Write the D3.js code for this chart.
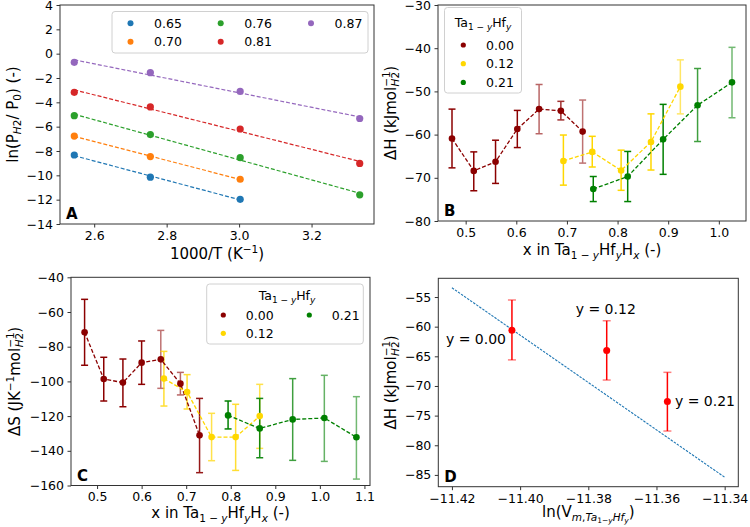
<!DOCTYPE html>
<html>
<head>
<meta charset="utf-8">
<script src="https://cdn.jsdelivr.net/npm/d3@7"></script>
<style>
  body { margin: 0; background: #fff; }
  svg text { font-family: "DejaVu Sans", sans-serif; fill: #000; }
</style>
</head>
<body>
<svg id="chart" width="750" height="527"></svg>
<script>
// ---- Panel A: van 't Hoff plots ----
const invT = [2.545, 2.755, 3.003, 3.333];          // 1000/T
const compA = ['0.65', '0.70', '0.76', '0.81', '0.87'];
const lnP065 = [-8.33, -10.15, -11.97];
const lnP070 = [-6.77, -8.46, -10.32];
const lnP076 = [-5.10, -6.65, -8.55, -11.60];
const lnP081 = [-3.18, -4.38, -6.19, -9.02];
const lnP087 = [-0.71, -1.56, -3.10, -5.33];

// ---- Panel B: enthalpy vs x ----
const xB00 = [0.473, 0.516, 0.559, 0.602, 0.645, 0.688, 0.731];
const dHB00 = [-60.9, -68.4, -66.3, -58.7, -54.1, -54.5, -59.3];
const dHB00Lo = [-67.7, -73.0, -71.3, -63.0, -59.8, -56.6, -66.6];
const dHB00Hi = [-54.1, -64.0, -61.3, -54.4, -48.4, -52.3, -52.0];
const xB12 = [0.693, 0.750, 0.807, 0.866, 0.924];
const dHB12 = [-66.1, -64.0, -68.3, -61.7, -48.9];
const dHB12Lo = [-71.7, -67.5, -72.9, -68.2, -55.2];
const dHB12Hi = [-60.1, -60.4, -63.6, -55.2, -42.7];
const xB21 = [0.752, 0.820, 0.890, 0.958, 1.026];
const dHB21 = [-72.6, -69.7, -61.1, -53.2, -47.9];
const dHB21Lo = [-75.5, -75.5, -69.2, -61.6, -56.1];
const dHB21Hi = [-69.7, -63.9, -53.0, -44.7, -39.8];

// ---- Panel C: entropy vs x ----
const xC00 = [0.472, 0.515, 0.558, 0.600, 0.643, 0.687, 0.730];
const dSC00 = [-71.7, -98.6, -100.7, -89.2, -87.3, -101.3, -131.1];
const dSC00Lo = [-90.7, -111.3, -114.6, -101.7, -104.0, -107.8, -152.6];
const dSC00Hi = [-52.7, -86.1, -87.1, -76.7, -70.6, -94.8, -109.8];
const xC12 = [0.650, 0.702, 0.757, 0.811, 0.865];
const dSC12 = [-98.4, -106.1, -132.1, -132.1, -120.0];
const dSC12Lo = [-114.2, -115.9, -145.7, -151.3, -138.6];
const dSC12Hi = [-82.7, -96.1, -118.4, -113.2, -101.7];
const xC21 = [0.794, 0.865, 0.939, 1.010, 1.082];
const dSC21 = [-119.6, -127.1, -121.9, -121.1, -132.2];
const dSC21Lo = [-127.4, -144.0, -145.5, -146.1, -156.3];
const dSC21Hi = [-111.3, -109.8, -98.4, -96.5, -108.8];

// ---- Panel D: enthalpy vs molar volume ----
const lnVm = [-11.4024, -11.3746, -11.3568];
const dHD = [-60.6, -64.0, -72.6];
const dHDLo = [-65.6, -69.0, -77.6];
const dHDHi = [-55.5, -59.0, -67.7];
const hfLabels = ['y = 0.00', 'y = 0.12', 'y = 0.21'];
const fitLnVm = [-11.42, -11.34];
const fitDH = [-53.44, -85.39];

const hfNames = ['0.00', '0.12', '0.21'];

const svg = d3.select('#chart');
const fmt = d3.format('.1f');

function pad(ext) {
    const r = ext[1] - ext[0];
    return [ext[0] - 0.05 * r, ext[1] + 0.05 * r];
}

// Axes box with ticks and frame
function panel(box, xDom, yDom, xTicks, yTicks, xFmt, yFmt) {
    const x = d3.scaleLinear().domain(xDom).range([box.l, box.r]);
    const y = d3.scaleLinear().domain(yDom).range([box.b, box.t]);
    const g = svg.append('g');
    const xa = g.append('g').attr('transform', `translate(0,${box.b})`)
        .call(d3.axisBottom(x).tickValues(xTicks).tickFormat(xFmt).tickSize(3.5).tickPadding(3.5));
    const ya = g.append('g').attr('transform', `translate(${box.l},0)`)
        .call(d3.axisLeft(y).tickValues(yTicks).tickFormat(yFmt).tickSize(3.5).tickPadding(3.5));
    [xa, ya].forEach(a => {
        a.select('.domain').remove();
        a.selectAll('.tick line').attr('stroke', '#333');
        a.selectAll('text').style('font-size', '12.5px').attr('fill', '#000');
    });
    const plot = g.append('g');
    g.append('rect')
        .attr('x', box.l).attr('y', box.t)
        .attr('width', box.r - box.l).attr('height', box.b - box.t)
        .attr('fill', 'none').attr('stroke', '#333').attr('stroke-width', 1);
    return { g, plot, x, y, box };
}

// Text with sub/superscripts
function rich(sel, parts, size) {
    let cur = 0;
    parts.forEach(p => {
        const off = p.off || 0;
        const ts = sel.append('tspan').text(p.t)
            .attr('dy', off - cur)
            .style('font-size', (p.s || size) + 'px');
        if (p.it) ts.style('font-style', 'italic');
        if (p.dx) ts.attr('dx', p.dx);
        cur = off;
    });
}

function ylabel(p, cx, parts) {
    const cy = (p.box.t + p.box.b) / 2;
    const t = p.g.append('text')
        .attr('transform', `translate(${cx + 5.5},${cy}) rotate(-90)`)
        .attr('text-anchor', 'middle');
    rich(t, parts, 15);
}

function xlabel(p, baseline, parts) {
    const t = p.g.append('text')
        .attr('x', (p.box.l + p.box.r) / 2).attr('y', baseline)
        .attr('text-anchor', 'middle');
    rich(t, parts, 15);
}

function letter(p, s) {
    p.g.append('text').attr('x', p.box.l + 6).attr('y', p.box.b - 5)
        .style('font-size', '15px').style('font-weight', 'bold').text(s);
}

function errSeries(p, xs, ys, lo, hi, color, alphas) {
    const pts = xs.map((d, i) => ({ x: d, y: ys[i], lo: lo[i], hi: hi[i], a: alphas[i] }));
    const eb = p.plot.append('g').attr('stroke', color).attr('stroke-width', 1.5);
    pts.forEach(d => {
        const g = eb.append('g').attr('opacity', d.a);
        const px = p.x(d.x);
        g.append('line').attr('x1', px).attr('x2', px).attr('y1', p.y(d.lo)).attr('y2', p.y(d.hi));
        [d.lo, d.hi].forEach(v => g.append('line')
            .attr('x1', px - 3.5).attr('x2', px + 3.5).attr('y1', p.y(v)).attr('y2', p.y(v)));
    });
    return pts;
}

function lineDots(p, pts, color, r) {
    p.plot.append('path').datum(pts)
        .attr('fill', 'none').attr('stroke', color).attr('stroke-width', 1.3)
        .attr('stroke-dasharray', '4,2')
        .attr('d', d3.line().x(d => p.x(d.x)).y(d => p.y(d.y)));
    p.plot.selectAll(null).data(pts).enter().append('circle')
        .attr('cx', d => p.x(d.x)).attr('cy', d => p.y(d.y)).attr('r', r).attr('fill', color);
}

const hfTitle = [
    { t: 'Ta' }, { t: '1 − ', off: 3, s: 9 }, { t: 'y', off: 3, s: 9, it: 1 },
    { t: 'Hf', off: 0 }, { t: 'y', off: 3, s: 9, it: 1 }
];
const xInLabel = [
    { t: 'x in Ta' }, { t: '1 − ', off: 3.5, s: 10.5 }, { t: 'y', off: 3.5, s: 10.5, it: 1 },
    { t: 'Hf', off: 0 }, { t: 'y', off: 3.5, s: 10.5, it: 1 },
    { t: 'H', off: 0 }, { t: 'x', off: 3.5, s: 10.5, it: 1 }, { t: ' (-)', off: 0 }
];
const dHLabel = [
    { t: 'ΔH (kJmol' }, { t: '−1', off: -6, s: 10.5 },
    { t: 'H', off: 3.5, s: 10.5, it: 1, dx: -15 }, { t: '2', off: 3.5, s: 10.5 }, { t: ')', off: 0 }
];

// ================= Panel A =================
const seriesA = [lnP065, lnP070, lnP076, lnP081, lnP087];
const colorsA = ['#1f77b4', '#ff7f0e', '#2ca02c', '#d62728', '#9467bd'];
const pA = panel({ l: 60, t: 5, r: 374, b: 224 }, pad(d3.extent(invT)), [-14, 4],
    [2.6, 2.8, 3.0, 3.2], d3.range(-14, 5, 2), fmt, d3.format('d'));
seriesA.forEach((vals, k) => {
    const pts = vals.map((v, i) => ({ x: invT[i], y: v }));
    // least squares fit
    const mx = d3.mean(pts, d => d.x), my = d3.mean(pts, d => d.y);
    const slope = d3.sum(pts, d => (d.x - mx) * (d.y - my)) / d3.sum(pts, d => (d.x - mx) ** 2);
    const ends = d3.extent(pts, d => d.x).map(xv => ({ x: xv, y: my + slope * (xv - mx) }));
    pA.plot.append('path').datum(ends)
        .attr('fill', 'none').attr('stroke', colorsA[k]).attr('stroke-width', 1.2)
        .attr('stroke-dasharray', '4,2')
        .attr('d', d3.line().x(d => pA.x(d.x)).y(d => pA.y(d.y)));
    pA.plot.selectAll(null).data(pts).enter().append('circle')
        .attr('cx', d => pA.x(d.x)).attr('cy', d => pA.y(d.y)).attr('r', 3.6).attr('fill', colorsA[k]);
});
// legend A
const legA = pA.g.append('g');
legA.append('rect').attr('x', 112).attr('y', 11.5).attr('width', 256).attr('height', 41.5)
    .attr('rx', 3).attr('fill', '#fff').attr('fill-opacity', 0.8).attr('stroke', '#d0d0d0');
compA.forEach((c, i) => {
    const col = Math.floor(i / 2), row = i % 2;
    const mx = [130.5, 220.7, 311][col];
    const ty = [23.3, 41.7][row];
    legA.append('circle').attr('cx', mx).attr('cy', ty).attr('r', 3).attr('fill', colorsA[i]);
    legA.append('text').attr('x', mx + 23.5).attr('y', ty + 4.5).style('font-size', '12.5px').text(c);
});
ylabel(pA, 12, [{ t: 'ln(P' }, { t: 'H', off: 3.5, s: 10.5, it: 1 }, { t: '2', off: 3.5, s: 10.5 },
    { t: '/ P', off: 0 }, { t: '0', off: 3.5, s: 10.5 }, { t: ') (-)', off: 0 }]);
xlabel(pA, 259, [{ t: '1000/T (K' }, { t: '−1', off: -6, s: 10.5 }, { t: ')', off: 0 }]);
letter(pA, 'A');

// ================= Panel B =================
const colorsHf = ['#8b0000', '#ffd700', '#008000'];
const pB = panel({ l: 438, t: 5, r: 746, b: 221 }, pad(d3.extent(xB00.concat(xB12, xB21))), [-80, -30],
    d3.range(0.5, 1.01, 0.1), d3.range(-80, -29, 10), fmt, d3.format('d'));
const b00 = errSeries(pB, xB00, dHB00, dHB00Lo, dHB00Hi, colorsHf[0], [1, 1, 1, 1, 0.6, 0.8, 0.55]);
const b12 = errSeries(pB, xB12, dHB12, dHB12Lo, dHB12Hi, colorsHf[1], [1, 1, 1, 1, 0.6]);
const b21 = errSeries(pB, xB21, dHB21, dHB21Lo, dHB21Hi, colorsHf[2], [1, 1, 1, 0.75, 0.55]);
lineDots(pB, b00, colorsHf[0], 3.3);
lineDots(pB, b12, colorsHf[1], 3.3);
lineDots(pB, b21, colorsHf[2], 3.3);
const legB = pB.g.append('g');
legB.append('rect').attr('x', 444.5).attr('y', 7.5).attr('width', 77).attr('height', 85.5)
    .attr('rx', 3).attr('fill', '#fff').attr('fill-opacity', 0.8).attr('stroke', '#d0d0d0');
rich(legB.append('text').attr('x', 483).attr('y', 27).attr('text-anchor', 'middle'), hfTitle, 12.5);
hfNames.forEach((n, i) => {
    const ty = 45 + i * 18.7;
    legB.append('circle').attr('cx', 463.3).attr('cy', ty).attr('r', 2.6).attr('fill', colorsHf[i]);
    legB.append('text').attr('x', 486).attr('y', ty + 4.5).style('font-size', '12.5px').text(n);
});
ylabel(pB, 390, dHLabel);
xlabel(pB, 255, xInLabel);
letter(pB, 'B');

// ================= Panel C =================
const pC = panel({ l: 71, t: 277.3, r: 370, b: 485.5 }, pad(d3.extent(xC00.concat(xC12, xC21))), [-160, -40],
    d3.range(0.5, 1.11, 0.1), d3.range(-160, -39, 20), fmt, d3.format('d'));
const c00 = errSeries(pC, xC00, dSC00, dSC00Lo, dSC00Hi, colorsHf[0], [1, 1, 1, 1, 0.55, 0.6, 0.9]);
const c12 = errSeries(pC, xC12, dSC12, dSC12Lo, dSC12Hi, colorsHf[1], [0.8, 0.8, 0.7, 0.8, 0.7]);
const c21 = errSeries(pC, xC21, dSC21, dSC21Lo, dSC21Hi, colorsHf[2], [1, 0.9, 0.75, 0.6, 0.55]);
lineDots(pC, c00, colorsHf[0], 3.3);
lineDots(pC, c12, colorsHf[1], 3.3);
lineDots(pC, c21, colorsHf[2], 3.3);
const legC = pC.g.append('g');
legC.append('rect').attr('x', 206.7).attr('y', 284).attr('width', 156.6).attr('height', 60)
    .attr('rx', 3).attr('fill', '#fff').attr('fill-opacity', 0.8).attr('stroke', '#d0d0d0');
rich(legC.append('text').attr('x', 287).attr('y', 299.5).attr('text-anchor', 'middle'), hfTitle, 12.5);
hfNames.forEach((n, i) => {
    const col = Math.floor(i / 2), row = i % 2;
    const mx = [223.3, 309.3][col];
    const ty = [315, 333.3][row];
    legC.append('circle').attr('cx', mx).attr('cy', ty).attr('r', 2.6).attr('fill', colorsHf[i]);
    legC.append('text').attr('x', mx + 22.5).attr('y', ty + 4.5).style('font-size', '12.5px').text(n);
});
ylabel(pC, 14, [{ t: 'ΔS (JK' }, { t: '−1', off: -6, s: 10.5 }, { t: 'mol', off: 0 }, { t: '−1', off: -6, s: 10.5 },
    { t: 'H', off: 3.5, s: 10.5, it: 1, dx: -15 }, { t: '2', off: 3.5, s: 10.5 }, { t: ')', off: 0 }]);
xlabel(pC, 518, xInLabel);
letter(pC, 'C');

// ================= Panel D =================
const pD = panel({ l: 438.3, t: 278.3, r: 738.3, b: 486.7 }, pad(d3.extent(fitLnVm)), pad(d3.extent(fitDH)),
    d3.range(-11.42, -11.339, 0.02), d3.range(-85, -54, 5), d3.format('.2f'), d3.format('d'));
pD.plot.append('path').datum(fitLnVm.map((v, i) => ({ x: v, y: fitDH[i] })))
    .attr('fill', 'none').attr('stroke', '#1f77b4').attr('stroke-width', 1.1)
    .attr('stroke-dasharray', '2.5,1.2')
    .attr('d', d3.line().x(d => pD.x(d.x)).y(d => pD.y(d.y)));
lnVm.forEach((v, i) => {
    const px = pD.x(v);
    pD.plot.append('line').attr('x1', px).attr('x2', px).attr('y1', pD.y(dHDLo[i])).attr('y2', pD.y(dHDHi[i]))
        .attr('stroke', '#ff0000').attr('stroke-width', 1.5);
    [dHDLo[i], dHDHi[i]].forEach(e => pD.plot.append('line')
        .attr('x1', px - 4).attr('x2', px + 4).attr('y1', pD.y(e)).attr('y2', pD.y(e))
        .attr('stroke', '#ff0000').attr('stroke-opacity', 0.5).attr('stroke-width', 1.5));
    pD.plot.append('circle').attr('cx', px).attr('cy', pD.y(dHD[i])).attr('r', 3.5).attr('fill', '#ff0000');
});
// annotations placed relative to each point
const annOff = [[-66, 14], [-31, -36], [7.5, 5]];
lnVm.forEach((v, i) => {
    pD.g.append('text')
        .attr('x', pD.x(v) + annOff[i][0]).attr('y', pD.y(dHD[i]) + annOff[i][1])
        .style('font-size', '14px').text(hfLabels[i]);
});
ylabel(pD, 390, dHLabel);
xlabel(pD, 517, [{ t: 'ln(V' }, { t: 'm', off: 3.5, s: 10.5, it: 1 }, { t: ',', off: 3.5, s: 10.5 },
    { t: 'Ta', off: 3.5, s: 10.5, it: 1 }, { t: '1−', off: 6, s: 7.5 }, { t: 'y', off: 6, s: 7.5, it: 1 },
    { t: 'Hf', off: 3.5, s: 10.5, it: 1 }, { t: 'y', off: 6, s: 7.5, it: 1 }, { t: ')', off: 0 }]);
letter(pD, 'D');
</script>
</body>
</html>
